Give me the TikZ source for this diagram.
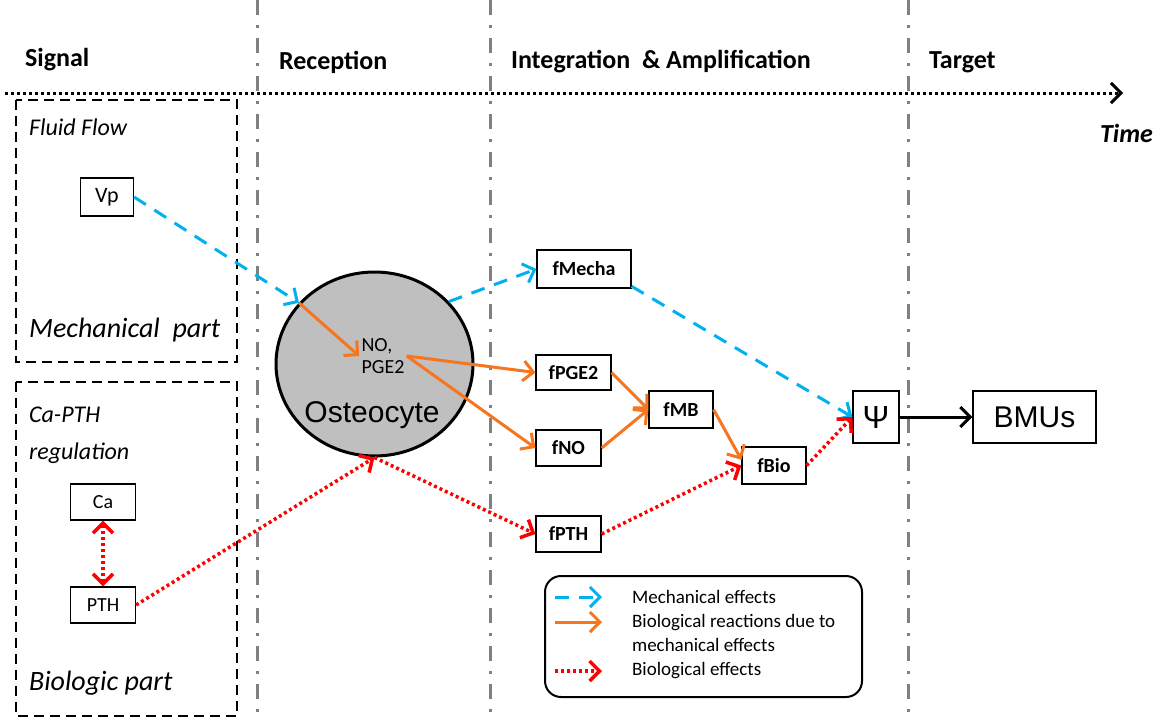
\documentclass[tikz,border=0pt]{standalone}
\usepackage{fontspec}
\setmainfont{Carlito}
\newfontfamily\arialfont{Liberation Sans}
\usetikzlibrary{shapes.geometric, arrows.meta, positioning}
\definecolor{skyblue}{rgb}{0.0, 0.69, 0.94}
\definecolor{pumpkin}{rgb}{0.97, 0.46, 0.12}
\definecolor{signalred}{rgb}{1.0, 0.0, 0.0}
\definecolor{midgray}{rgb}{0.5, 0.5, 0.5}
\definecolor{cellgray}{rgb}{0.75, 0.75, 0.75}

\begin{document}
\begin{tikzpicture}[x=0.5pt, y=-0.5pt, >={Straight Barb[length=5pt,width=10pt]}]
    \tikzstyle{box}=[draw, line width=0.6pt, inner sep=0pt, font=\fontsize{10}{12}\selectfont]
    \tikzstyle{fbox}=[box, font=\fontsize{10}{12}\selectfont\bfseries]
    \tikzstyle{mech}=[skyblue, line width=1.5pt, dash pattern=on 7pt off 5pt, ->]
    \tikzstyle{react}=[pumpkin, line width=1.5pt, ->]
    \tikzstyle{bio}=[signalred, line width=1.75pt, dash pattern=on 1.5pt off 1.5pt, ->]
    \tikzstyle{phase}=[midgray, line width=1.5pt, dash pattern=on 7.5pt off 5pt on 1.5pt off 5pt]
    \tikzstyle{heading}=[anchor=west, font=\fontsize{13}{15}\selectfont\bfseries]
    \tikzstyle{part}=[anchor=west, font=\fontsize{14}{16}\selectfont\itshape]
    \tikzstyle{group}=[draw, line width=1pt, dash pattern=on 5pt off 3pt]

    \useasboundingbox (0,0) rectangle (1168,718);

    % Phase separators
    \draw[phase] (257,0) -- (257,718);
    \draw[phase] (490,0) -- (490,718);
    \draw[phase] (908,0) -- (908,718);

    % Headings and time axis
    \node[heading] (signal) at (18,60) {Signal};
    \node[heading] (reception) at (272,62) {Reception};
    \node[heading] (integration) at (504,62) {Integration~ \& Amplification};
    \node[heading] (target) at (922,62) {Target};
    \node[heading, font=\fontsize{13}{15}\selectfont\bfseries\itshape] (time) at (1093,133) {Time};
    \coordinate (t0) at (5,93);
    \coordinate (t1) at (1123,93);
    \draw[line width=1.5pt, dash pattern=on 1.5pt off 1.5pt, ->] (t0) -- (t1);

    % Signal groups
    \draw[group] (16,100) rectangle (237,362);
    \draw[group] (16,382) rectangle (237,716);
    \node[part, font=\fontsize{12}{14}\selectfont\itshape] (fluid) at (22,127) {Fluid Flow};
    \node[part] (mechpart) at (22,330) {Mechanical~ part};
    \node[part, font=\fontsize{12}{14}\selectfont\itshape] (capth) at (22,415) {Ca-PTH};
    \node[part, font=\fontsize{12}{14}\selectfont\itshape] (regul) at (22,453) {regulation};
    \node[part] (biopart) at (22,683) {Biologic part};

    \node[box, font=\fontsize{11}{13}\selectfont, minimum width=26.5pt, minimum height=19pt] (vp) at (107,197) {Vp};
    \node[box, minimum width=32.5pt, minimum height=18pt] (ca) at (103,502) {Ca};
    \node[box, minimum width=32.5pt, minimum height=18pt] (pth) at (103,605) {PTH};

    % Osteocyte
    \node[ellipse, draw, fill=cellgray, line width=1.5pt, minimum width=98.5pt, minimum height=92pt] (osteo) at (374.5,364) {};
    \node[font=\fontsize{10}{11}\selectfont, align=left, inner sep=1pt] (nopge) at (383,356) {NO,\\PGE2};
    \node[font=\fontsize{15}{17}\selectfont\arialfont] (osteotext) at (372,415) {Osteocyte};

    % Integration boxes
    \node[fbox, minimum width=47pt, minimum height=19pt] (fmecha) at (584,269) {fMecha};
    \node[fbox, minimum width=37.5pt, minimum height=17.5pt] (fpge) at (573.5,372.5) {fPGE2};
    \node[fbox, minimum width=32.5pt, minimum height=18pt] (fno) at (568.5,448) {fNO};
    \node[fbox, minimum width=32pt, minimum height=18.5pt] (fmb) at (681,409.5) {fMB};
    \node[fbox, minimum width=32pt, minimum height=18.5pt] (fbio) at (774,465.5) {fBio};
    \node[fbox, minimum width=32.5pt, minimum height=18pt] (fpth) at (568.5,534) {fPTH};

    % Target
    \node[box, font=\fontsize{16}{18}\selectfont\arialfont, minimum width=23pt, minimum height=26pt] (psi) at (876,417) {Ψ};
    \node[box, font=\fontsize{15}{17}\selectfont\arialfont, minimum width=61.5pt, minimum height=26pt] (bmus) at (1034.5,417) {BMUs};

    % Mechanical effects
    \draw[mech] (vp.east) -- (osteo.141);
    \draw[mech] (osteo.40) -- (fmecha.west);
    \draw[mech] (fmecha.-20) -- (psi.west);

    % Biological reactions due to mechanical effects
    \draw[react] (osteo.141) -- (nopge.west);
    \draw[react] (nopge.east) -- (fpge.west);
    \draw[react] (nopge.east) -- (fno.west);
    \draw[react] (fpge.east) -- (fmb.west);
    \draw[react] (fno.east) -- (fmb.west);
    \draw[react] (fmb.east) -- (fbio.170);

    % Biological effects
    \draw[bio, <->] (ca.south) -- (pth.north);
    \draw[bio] (pth.east) -- (osteo.south);
    \draw[bio] (osteo.south) -- (fpth.west);
    \draw[bio] (fpth.east) -- (fbio.west);
    \draw[bio] (fbio.east) -- (psi.west);

    \draw[line width=1.5pt, ->] (psi.east) -- (bmus.west);

    % Legend
    \node[draw, rounded corners=8pt, line width=1pt, minimum width=158.5pt, minimum height=60.5pt] (legend) at (703.5,636.5) {};
    \coordinate (lm0) at (555,597);
    \coordinate (lm1) at (602,597);
    \coordinate (lr0) at (555,622);
    \coordinate (lr1) at (602,622);
    \coordinate (lb0) at (555,671);
    \coordinate (lb1) at (602,671);
    \draw[mech] (lm0) -- (lm1);
    \draw[react] (lr0) -- (lr1);
    \draw[bio] (lb0) -- (lb1);
    \node[anchor=west, font=\fontsize{9.5}{12}\selectfont] (lmtext) at (625,597) {Mechanical effects};
    \node[anchor=west, align=left, font=\fontsize{9.5}{12}\selectfont] (lrtext) at (625,633) {Biological reactions due to\\mechanical effects};
    \node[anchor=west, font=\fontsize{9.5}{12}\selectfont] (lbtext) at (625,671) {Biological effects};
\end{tikzpicture}
\end{document}
